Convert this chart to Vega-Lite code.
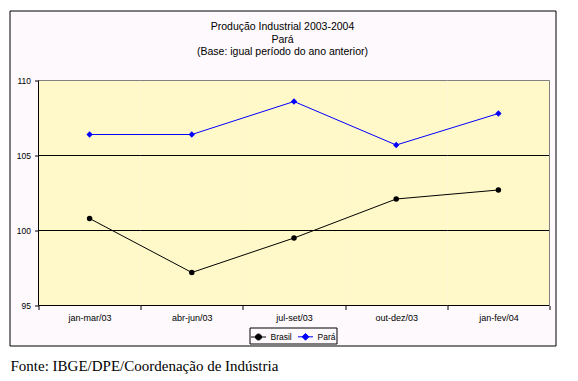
{
  "$schema": "https://vega.github.io/schema/vega-lite/v6.json",
  "width": 546,
  "height": 335,
  "autosize": {"type": "none"},
  "padding": {"left": 9.5, "top": 10.5, "right": 22.5, "bottom": 35.5},
  "background": "#ffffff",
  "title": {
    "text": ["Produção Industrial 2003-2004", "Pará", "(Base: igual período do ano anterior)"],
    "font": "Liberation Sans",
    "fontSize": 10.5,
    "fontWeight": "normal",
    "color": "#000000",
    "lineHeight": 12.5,
    "anchor": "middle",
    "frame": "group",
    "offset": -47
  },
  "config": {
    "view": {"fill": "#FDF9FD", "stroke": "#000000", "strokeWidth": 1},
    "font": "Liberation Sans"
  },
  "data": {
    "values": [
      {"periodo": "jan-mar/03", "serie": "Brasil", "indice": 100.8},
      {"periodo": "abr-jun/03", "serie": "Brasil", "indice": 97.2},
      {"periodo": "jul-set/03", "serie": "Brasil", "indice": 99.5},
      {"periodo": "out-dez/03", "serie": "Brasil", "indice": 102.1},
      {"periodo": "jan-fev/04", "serie": "Brasil", "indice": 102.7},
      {"periodo": "jan-mar/03", "serie": "Pará", "indice": 106.4},
      {"periodo": "abr-jun/03", "serie": "Pará", "indice": 106.4},
      {"periodo": "jul-set/03", "serie": "Pará", "indice": 108.6},
      {"periodo": "out-dez/03", "serie": "Pará", "indice": 105.7},
      {"periodo": "jan-fev/04", "serie": "Pará", "indice": 107.8}
    ]
  },
  "encoding": {
    "x": {
      "field": "periodo",
      "type": "nominal",
      "sort": ["jan-mar/03", "abr-jun/03", "jul-set/03", "out-dez/03", "jan-fev/04"],
      "scale": {
        "domain": ["jan-mar/03", "abr-jun/03", "jul-set/03", "out-dez/03", "jan-fev/04"],
        "paddingInner": 0,
        "paddingOuter": 0.171233,
        "align": 0.828571
      },
      "axis": {
        "orient": "bottom",
        "offset": -40,
        "domain": false,
        "grid": false,
        "ticks": true,
        "tickBand": "extent",
        "tickSize": 4,
        "tickColor": "#000000",
        "labelAngle": 0,
        "labelFont": "Liberation Sans",
        "labelFontSize": 9,
        "labelColor": "#000000",
        "labelPadding": 4,
        "title": "Fonte: IBGE/DPE/Coordenação de Indústria",
        "titleFont": "Liberation Serif",
        "titleFontSize": 15,
        "titleFontWeight": "normal",
        "titleColor": "#000000",
        "titleAlign": "left",
        "titleBaseline": "alphabetic",
        "titleX": 0.5,
        "titleY": 65
      }
    }
  },
  "layer": [
    {
      "transform": [{"filter": "datum.serie === 'Brasil'"}],
      "mark": {"type": "rect", "fill": "#FFF8C8", "stroke": null},
      "encoding": {
        "y": {
          "datum": 95,
          "type": "quantitative",
          "scale": {"domain": [92.333333, 114.666667], "nice": false, "zero": false},
          "axis": {
            "orient": "left",
            "offset": -29,
            "values": [95, 100, 105, 110],
            "domain": false,
            "grid": false,
            "tickSize": 4,
            "tickColor": "#000000",
            "labelFont": "Liberation Sans",
            "labelFontSize": 8.5,
            "labelColor": "#000000",
            "labelPadding": 4,
            "title": null
          }
        },
        "y2": {"datum": 110}
      }
    },
    {
      "transform": [{"filter": "datum.serie === 'Brasil'"}],
      "mark": {"type": "tick", "color": "#000000", "thickness": 1, "size": 102.3, "orient": "horizontal", "opacity": 1},
      "encoding": {"y": {"datum": 95, "type": "quantitative"}}
    },
    {
      "transform": [{"filter": "datum.serie === 'Brasil'"}],
      "mark": {"type": "tick", "color": "#000000", "thickness": 1, "size": 102.3, "orient": "horizontal", "opacity": 1},
      "encoding": {"y": {"datum": 100, "type": "quantitative"}}
    },
    {
      "transform": [{"filter": "datum.serie === 'Brasil'"}],
      "mark": {"type": "tick", "color": "#000000", "thickness": 1, "size": 102.3, "orient": "horizontal", "opacity": 1},
      "encoding": {"y": {"datum": 105, "type": "quantitative"}}
    },
    {
      "transform": [{"filter": "datum.serie === 'Brasil'"}],
      "mark": {"type": "tick", "color": "#808080", "thickness": 1, "size": 102.3, "orient": "horizontal", "opacity": 1},
      "encoding": {"y": {"datum": 110, "type": "quantitative"}}
    },
    {
      "data": {"values": [{}]},
      "mark": {"type": "rule", "color": "#000000", "strokeWidth": 1},
      "encoding": {
        "x": {"datum": "jan-mar/03", "bandPosition": 0},
        "y": {"datum": 95, "type": "quantitative"},
        "y2": {"datum": 110}
      }
    },
    {
      "data": {"values": [{}]},
      "mark": {"type": "rule", "color": "#808080", "strokeWidth": 1},
      "encoding": {
        "x": {"datum": "jan-fev/04", "bandPosition": 1},
        "y": {"datum": 95, "type": "quantitative"},
        "y2": {"datum": 110}
      }
    },
    {
      "mark": {"type": "line", "strokeWidth": 1},
      "encoding": {
        "y": {"field": "indice", "type": "quantitative"},
        "color": {
          "field": "serie",
          "type": "nominal",
          "scale": {"domain": ["Brasil", "Pará"], "range": ["#000000", "#0000FF"]},
          "legend": {
            "orient": "none",
            "legendX": 240,
            "legendY": 317,
            "direction": "horizontal",
            "title": null,
            "strokeColor": "#000000",
            "fillColor": "#FDF9FD",
            "padding": 1,
            "columnPadding": 3,
            "labelFont": "Liberation Sans",
            "labelFontSize": 8.5,
            "labelColor": "#000000",
            "labelOffset": 4,
            "symbolSize": 225,
            "symbolStrokeWidth": 1,
            "encode": {
              "symbols": {
                "update": {
                  "shape": {"signal": "datum.value === 'Brasil' ? 'M-1,0H1M-0.4,0A0.4,0.4,0,1,1,0.4,0A0.4,0.4,0,1,1,-0.4,0Z' : 'M-1,0H1M0,-0.45L0.45,0L0,0.45L-0.45,0Z'"},
                  "fill": {"signal": "datum.value === 'Brasil' ? '#000000' : '#0000FF'"},
                  "stroke": {"signal": "datum.value === 'Brasil' ? '#000000' : '#0000FF'"},
                  "strokeWidth": {"value": 1},
                  "size": {"value": 225}
                }
              }
            }
          }
        }
      }
    },
    {
      "transform": [{"filter": "datum.serie === 'Brasil'"}],
      "mark": {"type": "point", "shape": "circle", "filled": true, "size": 30, "color": "#000000", "opacity": 1},
      "encoding": {"y": {"field": "indice", "type": "quantitative"}}
    },
    {
      "transform": [{"filter": "datum.serie === 'Pará'"}],
      "mark": {"type": "point", "shape": "diamond", "filled": true, "size": 40, "color": "#0000FF", "opacity": 1},
      "encoding": {"y": {"field": "indice", "type": "quantitative"}}
    }
  ]
}
